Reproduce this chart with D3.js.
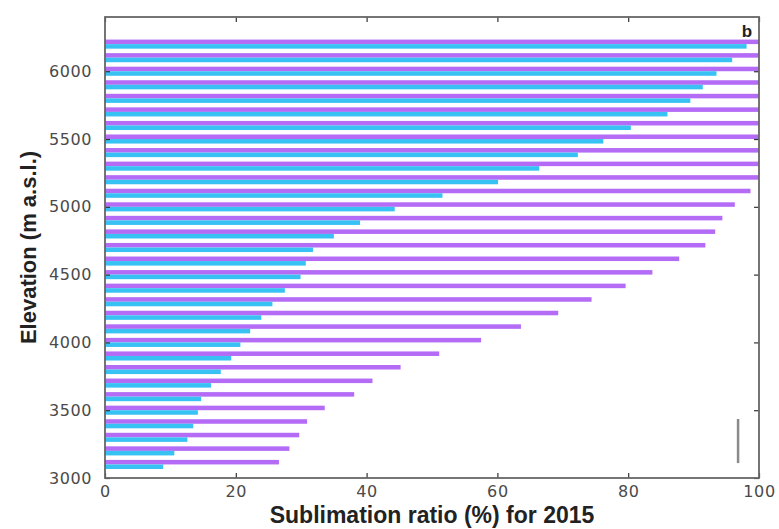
<!DOCTYPE html>
<html lang="en">
<head>
<meta charset="UTF-8">
<title>Sublimation ratio by elevation (b)</title>
<script src="https://cdnjs.cloudflare.com/ajax/libs/d3/7.8.5/d3.min.js"></script>
<style>
    body { margin: 0; background: #fff; }
    .tick text { font-family: 'DejaVu Sans', sans-serif; font-size: 16px; fill: #4a4a4a; letter-spacing: 0.6px; }
    .axis-label { font-family: 'Liberation Sans', Arial, sans-serif; font-weight: bold; fill: #222; }
</style>
</head>
<body>
<div id="chart"></div>
<script>
    // elevation bands (m a.s.l.), top to bottom
    const elevations = [6200, 6100, 6000, 5900, 5800, 5700, 5600, 5500, 5400, 5300, 5200,
        5100, 5000, 4900, 4800, 4700, 4600, 4500, 4400, 4300, 4200, 4100, 4000,
        3900, 3800, 3700, 3600, 3500, 3400, 3300, 3200, 3100];

    // purple series (%), same order
    const purpleRatio = [100, 100, 100, 100, 100, 100, 100, 100, 100, 100, 100,
        98.7, 96.3, 94.4, 93.3, 91.8, 87.8, 83.7, 79.6, 74.4, 69.3, 63.6, 57.5,
        51.1, 45.2, 40.9, 38.1, 33.6, 30.9, 29.7, 28.2, 26.6];

    // cyan series (%), same order
    const cyanRatio = [98.1, 95.9, 93.5, 91.4, 89.5, 86.0, 80.4, 76.2, 72.3, 66.4, 60.1,
        51.6, 44.3, 39.0, 35.0, 31.8, 30.7, 29.9, 27.5, 25.6, 23.9, 22.2, 20.7,
        19.3, 17.7, 16.2, 14.7, 14.2, 13.5, 12.6, 10.6, 8.9];

    const xTicks = [0, 20, 40, 60, 80, 100];
    const yTicks = [3000, 3500, 4000, 4500, 5000, 5500, 6000];

    // small grey vertical mark near the lower right corner
    const markX = [96.8];
    const markY = [3110, 3435];

    const W = 779, H = 529;
    const margin = { top: 17, right: 20, bottom: 51, left: 105 };
    const innerW = W - margin.left - margin.right;
    const innerH = H - margin.top - margin.bottom;

    const svg = d3.select("#chart").append("svg")
        .attr("width", W)
        .attr("height", H);

    const g = svg.append("g")
        .attr("transform", `translate(${margin.left},${margin.top})`);

    const x = d3.scaleLinear().domain([0, 100]).range([0, innerW]);
    const y = d3.scaleLinear().domain([3000, 6400]).range([innerH, 0]);

    // bar thickness from one 100 m band
    const band = y(0) - y(100);
    const barH = band * 0.335;

    // purple bars (upper of each pair)
    g.selectAll(".bar-purple")
        .data(elevations)
        .enter()
        .append("rect")
        .attr("class", "bar-purple")
        .attr("x", x(0))
        .attr("y", d => y(d) - barH)
        .attr("width", (d, i) => x(purpleRatio[i]) - x(0))
        .attr("height", barH)
        .attr("fill", "#b46cf6");

    // cyan bars (lower of each pair)
    g.selectAll(".bar-cyan")
        .data(elevations)
        .enter()
        .append("rect")
        .attr("class", "bar-cyan")
        .attr("x", x(0))
        .attr("y", d => y(d))
        .attr("width", (d, i) => x(cyanRatio[i]) - x(0))
        .attr("height", barH)
        .attr("fill", "#38c2f4");

    // grey mark
    g.append("line")
        .attr("x1", x(markX[0]))
        .attr("x2", x(markX[0]))
        .attr("y1", y(markY[0]))
        .attr("y2", y(markY[1]))
        .attr("stroke", "#8a8a8a")
        .attr("stroke-width", 2.5);

    // axes, ticks pointing inward like the original
    const styleAxis = sel => {
        sel.select(".domain").remove();
        sel.selectAll(".tick line").attr("stroke", "#333").attr("stroke-width", 1.2);
    };

    g.append("g")
        .attr("transform", `translate(0,${innerH})`)
        .call(d3.axisBottom(x).tickValues(xTicks).tickSize(-5).tickPadding(8))
        .call(styleAxis);

    g.append("g")
        .call(d3.axisTop(x).tickValues(xTicks).tickSize(-5).tickFormat(""))
        .call(styleAxis);

    g.append("g")
        .call(d3.axisLeft(y).tickValues(yTicks).tickSize(-5).tickPadding(13).tickFormat(d3.format("d")))
        .call(styleAxis);

    g.append("g")
        .attr("transform", `translate(${innerW},0)`)
        .call(d3.axisRight(y).tickValues(yTicks).tickSize(-5).tickFormat(""))
        .call(styleAxis);

    // box
    g.append("rect")
        .attr("width", innerW)
        .attr("height", innerH)
        .attr("fill", "none")
        .attr("stroke", "#666")
        .attr("stroke-width", 1.8);

    // panel letter
    g.append("text")
        .attr("x", innerW - 12)
        .attr("y", 20)
        .attr("text-anchor", "middle")
        .style("font-family", "'Liberation Sans', Arial, sans-serif")
        .style("font-size", "17px")
        .style("font-weight", "bold")
        .style("fill", "#222")
        .text("b");

    // axis labels
    svg.append("text")
        .attr("class", "axis-label")
        .attr("x", margin.left + innerW / 2)
        .attr("y", 523)
        .attr("text-anchor", "middle")
        .style("font-size", "23px")
        .text("Sublimation ratio (%) for 2015");

    svg.append("text")
        .attr("class", "axis-label")
        .attr("transform", `translate(36,${margin.top + innerH / 2}) rotate(-90)`)
        .attr("text-anchor", "middle")
        .style("font-size", "22px")
        .text("Elevation (m a.s.l.)");
</script>
</body>
</html>
